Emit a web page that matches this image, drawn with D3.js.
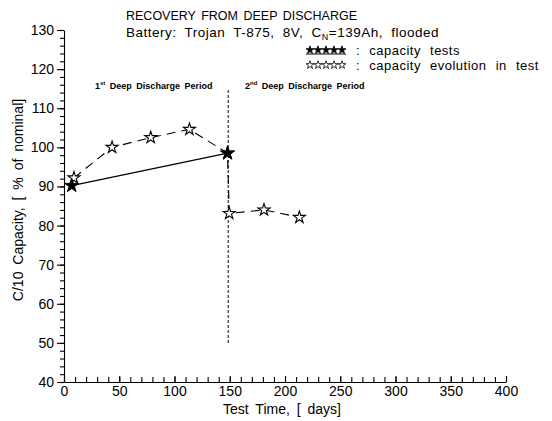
<!DOCTYPE html>
<html>
<head>
<meta charset="utf-8">
<script src="https://cdn.jsdelivr.net/npm/d3@7"></script>
<style>
  body { margin: 0; background: #fff; }
  svg { display: block; }
  text { font-family: "Liberation Sans", Arial, sans-serif; fill: #000; }
</style>
</head>
<body>
<div id="chart"></div>
<script>
// capacity tests (filled stars, solid line)
var testDays = [7, 148];
var testCap = [90.2, 98.5];
// capacity evolution in test (open stars, dashed line)
var evoDays = [9, 43.5, 78.5, 113.5, 148, 149.5, 181, 213];
var evoCap = [92.2, 100, 102.5, 104.6, 98.5, 83.1, 84.0, 82.1];
// boundary between discharge periods
var periodDay = 148.7;
var periodSpan = [50, 115];

var xTicks = [0, 50, 100, 150, 200, 250, 300, 350, 400];
var yTicks = [40, 50, 60, 70, 80, 90, 100, 110, 120, 130];

var w = 552, h = 421;
var margin = {left: 64, right: 46, top: 30, bottom: 39};

var svg = d3.select("#chart")
    .append("svg")
    .attr("width", w)
    .attr("height", h);

var x = d3.scaleLinear().domain([0, 400]).range([margin.left, w - margin.right]);
var y = d3.scaleLinear().domain([40, 130]).range([h - margin.bottom, margin.top]);

// y axis, minor then major
svg.append("g")
    .attr("transform", "translate(" + margin.left + ",0)")
    .call(d3.axisLeft(y).tickValues(d3.range(40, 131, 2)).tickSize(4).tickFormat(""))
    .call(function(g){ g.select(".domain").remove(); });
var yAxis = svg.append("g")
    .attr("transform", "translate(" + margin.left + ",0)")
    .call(d3.axisLeft(y).tickValues(yTicks).tickSize(7).tickSizeOuter(0).tickPadding(3));
yAxis.selectAll("text").attr("font-size", "14px").attr("font-family", "Liberation Sans");

// x axis, ticks pointing up
svg.append("g")
    .attr("transform", "translate(0," + (h - margin.bottom) + ")")
    .call(d3.axisBottom(x).tickValues(d3.range(0, 401, 10)).tickSize(-5).tickFormat(""))
    .call(function(g){ g.select(".domain").remove(); });
var xAxis = svg.append("g")
    .attr("transform", "translate(0," + (h - margin.bottom) + ")")
    .call(d3.axisBottom(x).tickValues(xTicks).tickSize(-6).tickSizeOuter(0).tickPadding(4));
xAxis.selectAll("text").attr("font-size", "14px").attr("font-family", "Liberation Sans");
svg.selectAll(".domain, .tick line").attr("stroke", "#000").attr("stroke-width", 1.1);

// axis titles
svg.append("text")
    .attr("x", 282)
    .attr("y", 414)
    .attr("text-anchor", "middle")
    .attr("font-size", "14px")
    .attr("word-spacing", "3px")
    .text("Test Time, [ days]");

svg.append("text")
    .attr("transform", "translate(23,200) rotate(-90)")
    .attr("text-anchor", "middle")
    .attr("font-size", "14px")
    .attr("word-spacing", "3px")
    .text("C/10 Capacity, [ % of nominal]");

// titles
svg.append("text")
    .attr("x", 126).attr("y", 20)
    .attr("font-size", "12.5px")
    .attr("word-spacing", "2px")
    .text("RECOVERY FROM DEEP DISCHARGE");

var sub = svg.append("text")
    .attr("x", 126).attr("y", 37)
    .attr("font-size", "13.5px")
    .attr("letter-spacing", "0.5px")
    .attr("word-spacing", "4px");
sub.append("tspan").text("Battery: Trojan T-875, 8V, C");
sub.append("tspan").attr("font-size", "9px").attr("dy", 3).text("N");
sub.append("tspan").attr("dy", -3).text("=139Ah, flooded");

// period divider
svg.append("line")
    .attr("x1", x(periodDay)).attr("x2", x(periodDay))
    .attr("y1", y(periodSpan[0])).attr("y2", y(periodSpan[1]))
    .attr("stroke", "#555")
    .attr("stroke-width", 1.5)
    .attr("stroke-dasharray", "3,2");

function periodLabel(px, num, sup, rest) {
    var t = svg.append("text")
        .attr("x", px).attr("y", 89)
        .attr("font-size", "9px")
        .attr("font-weight", "bold")
        .attr("word-spacing", "2px");
    t.append("tspan").text(num);
    t.append("tspan").attr("font-size", "6px").attr("dy", -4).text(sup);
    t.append("tspan").attr("dy", 4).text(rest);
}
periodLabel(95, "1", "st", " Deep Discharge Period");
periodLabel(245, "2", "nd", " Deep Discharge Period");

// lines
var evo = evoDays.map(function(d, i){ return [d, evoCap[i]]; });
var tests = testDays.map(function(d, i){ return [d, testCap[i]]; });
var line = d3.line().x(function(d){ return x(d[0]); }).y(function(d){ return y(d[1]); });

svg.append("path")
    .attr("d", line(evo))
    .attr("fill", "none")
    .attr("stroke", "#000")
    .attr("stroke-width", 1.1)
    .attr("stroke-dasharray", "9,6");

svg.append("path")
    .attr("d", line(tests))
    .attr("fill", "none")
    .attr("stroke", "#000")
    .attr("stroke-width", 1.2);

// markers
var star = d3.symbol().type(d3.symbolStar).size(45);
svg.selectAll(".open")
    .data(evo)
    .enter()
    .append("path")
    .attr("class", "open")
    .attr("d", star)
    .attr("transform", function(d){ return "translate(" + x(d[0]) + "," + y(d[1]) + ")"; })
    .attr("fill", "#fff")
    .attr("stroke", "#000")
    .attr("stroke-width", 1.1);

svg.selectAll(".filled")
    .data(tests)
    .enter()
    .append("path")
    .attr("class", "filled")
    .attr("d", d3.symbol().type(d3.symbolStar).size(60))
    .attr("transform", function(d){ return "translate(" + x(d[0]) + "," + y(d[1]) + ")"; })
    .attr("fill", "#000")
    .attr("stroke", "#000");

// legend
var legendRows = [
    {label: ": capacity tests", filled: true, y: 50},
    {label: ": capacity evolution in test", filled: false, y: 65}
];
var small = d3.symbol().type(d3.symbolStar).size(20);
legendRows.forEach(function(row) {
    d3.range(5).forEach(function(k) {
        svg.append("path")
            .attr("d", small)
            .attr("transform", "translate(" + (310 + k * 8) + "," + row.y + ")")
            .attr("fill", row.filled ? "#000" : "#fff")
            .attr("stroke", "#000")
            .attr("stroke-width", 0.8);
    });
    if (row.filled) {
        svg.append("line")
            .attr("x1", 306).attr("x2", 346)
            .attr("y1", row.y + 4).attr("y2", row.y + 4)
            .attr("stroke", "#000");
    }
    svg.append("text")
        .attr("x", 356).attr("y", row.y + 4.5)
        .attr("font-size", "13px")
        .attr("letter-spacing", "0.5px")
        .attr("word-spacing", "5px")
        .text(row.label);
});
</script>
</body>
</html>
